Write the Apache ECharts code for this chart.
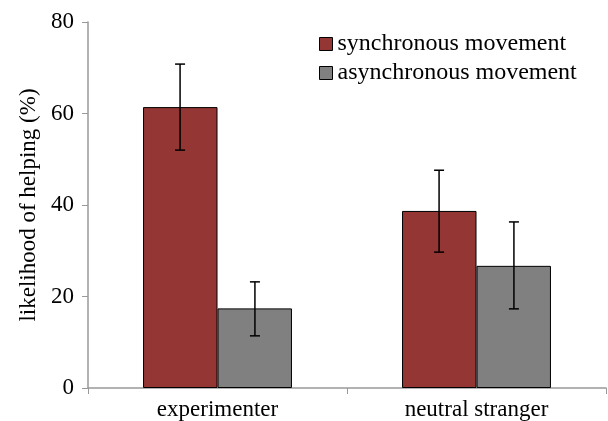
<!DOCTYPE html>
<html><head><meta charset="utf-8">
<script src="https://cdn.jsdelivr.net/npm/echarts@6/dist/echarts.min.js"></script>
<style>html,body{margin:0;padding:0;background:#fff}#c{width:608px;height:421px}</style>
</head><body><div id="c"></div>
<script>
var categories = ['experimenter', 'neutral stranger'];
var seriesNames = ['synchronous movement', 'asynchronous movement'];
var syncValues = [61.4, 38.7];
var asyncValues = [17.4, 26.7];
var syncErrLow = [52.0, 29.7];
var syncErrHigh = [70.8, 47.6];
var asyncErrLow = [11.4, 17.3];
var asyncErrHigh = [23.2, 36.3];
var yTicks = [0, 20, 40, 60, 80];

var font = 'Liberation Serif';
function errData(lo, hi) { return lo.map(function (v, i) { return [i, v, hi[i]]; }); }
function errSeries(lo, hi, sign) {
  return {
    type: 'custom', silent: true, z: 10,
    data: errData(lo, hi),
    encode: { x: 0, y: [1, 2] },
    renderItem: function (params, api) {
      var band = api.size([1, 0])[0];
      var off = sign * band * 0.1445;
      var p1 = api.coord([api.value(0), api.value(1)]);
      var p2 = api.coord([api.value(0), api.value(2)]);
      var x = p1[0] + off, cap = 5;
      var st = { stroke: '#000', lineWidth: 1.5 };
      return { type: 'group', children: [
        { type: 'line', shape: { x1: x, y1: p1[1], x2: x, y2: p2[1] }, style: st },
        { type: 'line', shape: { x1: x - cap, y1: p1[1], x2: x + cap, y2: p1[1] }, style: st },
        { type: 'line', shape: { x1: x - cap, y1: p2[1], x2: x + cap, y2: p2[1] }, style: st }
      ] };
    }
  };
}
var chart = echarts.init(document.getElementById('c'));
chart.setOption({
  animation: false,
  textStyle: { fontFamily: font },
  grid: { left: 88, right: 2, top: 22, bottom: 33 },
  legend: {
    orient: 'vertical', left: 314, top: 27, itemGap: 5,
    itemWidth: 13, itemHeight: 13, icon: 'rect',
    data: seriesNames,
    textStyle: { fontFamily: font, fontSize: 24, color: '#000', padding: [0, 0, 0, 0] },
    itemStyle: { borderColor: '#000', borderWidth: 1 }
  },
  xAxis: {
    type: 'category', data: categories,
    axisLine: { lineStyle: { color: '#999', width: 1.5 } },
    axisTick: { show: true, length: 6, lineStyle: { color: '#999' } },
    axisLabel: { fontFamily: font, fontSize: 23, color: '#000', margin: 10 }
  },
  yAxis: {
    type: 'value', min: yTicks[0], max: yTicks[yTicks.length - 1], interval: 20,
    name: 'likelihood of helping (%)', nameLocation: 'middle', nameGap: 46,
    nameTextStyle: { fontFamily: font, fontSize: 23, color: '#000' },
    axisLine: { show: true, lineStyle: { color: '#999', width: 1.5 } },
    axisTick: { show: true, length: 6, lineStyle: { color: '#999' } },
    splitLine: { show: false },
    axisLabel: { fontFamily: font, fontSize: 23, color: '#000', margin: 14 }
  },
  series: [
    { name: seriesNames[0], type: 'bar', data: syncValues, barGap: '0%', barCategoryGap: '42.5%',
      itemStyle: { color: '#943634', borderColor: '#000', borderWidth: 1 } },
    { name: seriesNames[1], type: 'bar', data: asyncValues, barGap: '0%', barCategoryGap: '42.5%',
      itemStyle: { color: '#808080', borderColor: '#000', borderWidth: 1 } },
    errSeries(syncErrLow, syncErrHigh, -1),
    errSeries(asyncErrLow, asyncErrHigh, 1)
  ]
});
</script></body></html>
